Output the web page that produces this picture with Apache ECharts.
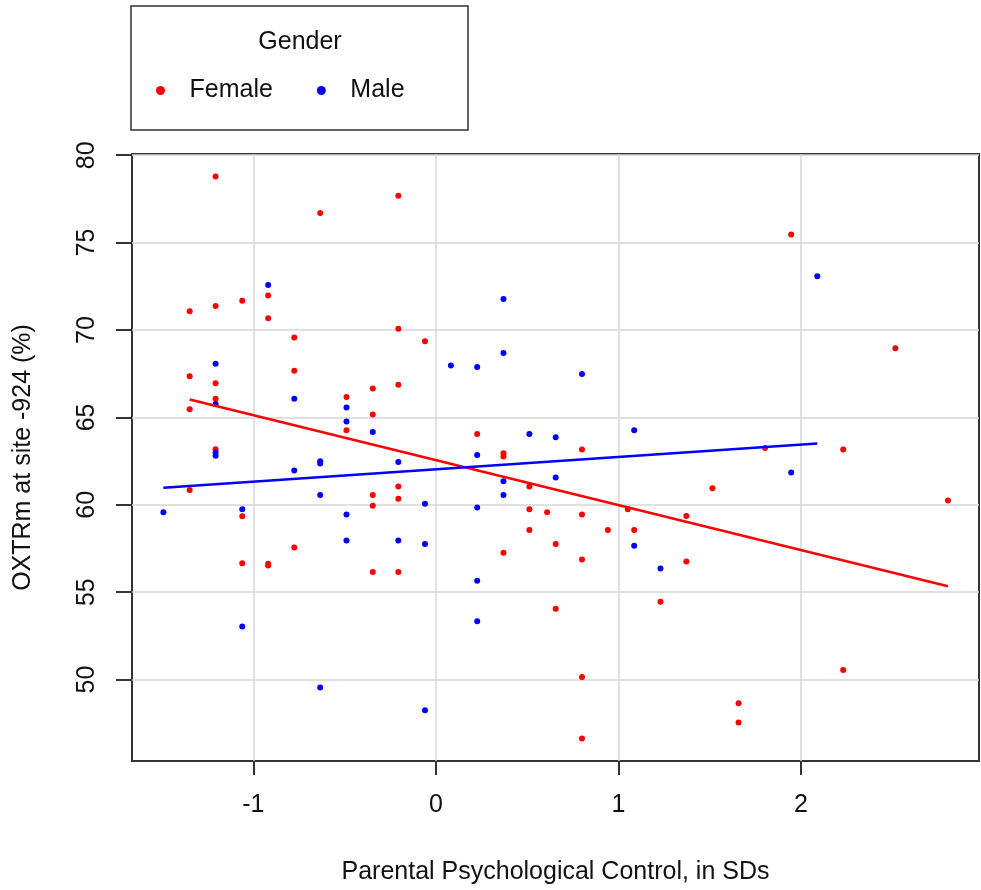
<!DOCTYPE html>
<html>
<head>
<meta charset="utf-8">
<script src="https://cdn.jsdelivr.net/npm/echarts@6/dist/echarts.min.js"></script>
<style>
  html, body { margin: 0; padding: 0; background: #fff; }
  #chart { width: 981px; height: 890px; }
</style>
</head>
<body>
<div id="chart"></div>
<script>
// values
const femaleX = [-1.349, -1.349, -1.349, -1.349, -1.207, -1.207, -1.207, -1.207, -1.207,
  -1.061, -1.061, -1.061, -0.919, -0.919, -0.919, -0.919, -0.776, -0.776, -0.776, -0.634,
  -0.490, -0.490, -0.346, -0.346, -0.346, -0.346, -0.346, -0.206, -0.206, -0.206, -0.206,
  -0.206, -0.206, -0.060, 0.226, 0.370, 0.370, 0.370, 0.512, 0.512, 0.512, 0.609, 0.656,
  0.656, 0.800, 0.800, 0.800, 0.800, 0.800, 0.942, 1.051, 1.086, 1.230, 1.372, 1.372,
  1.515, 1.658, 1.658, 1.803, 1.946, 2.231, 2.231, 2.517, 2.805]
const femaleY = [71.07, 67.36, 65.46, 60.84, 78.78, 71.38, 66.96, 66.07, 63.18,
  71.67, 59.34, 56.66, 71.97, 70.67, 56.62, 56.52, 69.57, 67.67, 57.55, 76.69,
  66.16, 64.26, 66.66, 65.16, 60.56, 59.94, 56.16, 77.68, 70.07, 66.87, 61.05,
  60.34, 56.16, 69.36, 64.05, 62.95, 62.76, 57.26, 61.05, 59.75, 58.56, 59.57, 57.76,
  54.05, 63.16, 59.45, 56.87, 50.15, 46.63, 58.56, 59.74, 58.56, 54.45, 59.36, 56.75,
  60.95, 48.64, 47.54, 63.25, 75.47, 63.16, 50.55, 68.96, 60.25]

const maleX = [-1.493, -1.207, -1.207, -1.207, -1.207, -1.061, -1.061, -0.919, -0.776,
  -0.776, -0.634, -0.634, -0.634, -0.634, -0.490, -0.490, -0.490, -0.490, -0.346, -0.206,
  -0.206, -0.060, -0.060, -0.060, 0.082, 0.226, 0.226, 0.226, 0.226, 0.226, 0.370, 0.370,
  0.370, 0.370, 0.512, 0.656, 0.656, 0.800, 1.086, 1.086, 1.230, 1.946, 2.089]
const maleY = [59.57, 68.07, 65.76, 62.99, 62.80, 59.75, 53.04, 72.58, 66.07,
  61.96, 62.49, 62.36, 60.56, 49.54, 65.56, 64.76, 59.45, 57.95, 64.17, 62.45,
  57.95, 60.06, 57.76, 48.24, 67.97, 67.88, 62.85, 59.85, 55.66, 53.34, 71.78, 68.68,
  61.35, 60.56, 64.05, 63.86, 61.56, 67.48, 64.26, 57.66, 56.35, 61.85, 73.07]

// fitted lines, end points
const femaleFitX = [-1.349, 2.805]
const femaleFitY = [66.02, 55.34]
const maleFitX = [-1.493, 2.089]
const maleFitY = [60.97, 63.50]

const xTicks = [-1, 0, 1, 2]
const yTicks = [50, 55, 60, 65, 70, 75, 80]

const zip = (xs, ys) => xs.map((x, i) => [x, ys[i]])

const font = 'Liberation Sans, Arial, Helvetica, sans-serif'
const textColor = '#111'
const fs = 25

let myChart = echarts.init(document.getElementById('chart'))
myChart.setOption({
  animation: false,
  textStyle: { fontFamily: font },
  grid: {
    left: 132,
    right: 2,
    top: 154,
    bottom: 127,
    show: true,
    borderColor: '#333',
    borderWidth: 2,
  },
  graphic: [
    {
      type: 'rect',
      shape: { x: 131, y: 6, width: 337, height: 124 },
      style: { fill: 'none', stroke: '#333', lineWidth: 1.5 },
    },
    {
      type: 'text',
      x: 300,
      y: 42,
      style: {
        text: 'Gender',
        fill: textColor,
        font: fs + 'px ' + font,
        textAlign: 'center',
        textVerticalAlign: 'middle',
      },
    },
  ],
  legend: {
    data: ['Female', 'Male'],
    left: 156,
    top: 78,
    padding: 0,
    icon: 'circle',
    itemWidth: 48,
    itemHeight: 9,
    itemGap: 44,
    textStyle: { fontSize: fs, color: textColor, fontFamily: font },
  },
  xAxis: {
    type: 'value',
    min: -1.665,
    max: 2.975,
    name: 'Parental Psychological Control, in SDs',
    nameLocation: 'middle',
    nameGap: 99,
    nameTextStyle: { fontSize: fs, color: textColor },
    axisLine: { show: false, onZero: false },
    axisTick: {
      show: true,
      length: 14,
      customValues: xTicks,
      lineStyle: { color: '#333', width: 2 },
    },
    axisLabel: {
      customValues: xTicks,
      fontSize: fs,
      color: textColor,
      margin: 32,
    },
    splitLine: {
      show: true,
      lineStyle: { color: '#d6d6d6', width: 1.5 },
    },
  },
  yAxis: {
    type: 'value',
    min: 45.34,
    max: 80.07,
    name: 'OXTRm at site -924 (%)',
    nameLocation: 'middle',
    nameGap: 96,
    nameTextStyle: { fontSize: fs, color: textColor },
    axisLine: { show: false, onZero: false },
    axisTick: {
      show: true,
      length: 16,
      customValues: yTicks,
      lineStyle: { color: '#333', width: 2 },
    },
    axisLabel: {
      customValues: yTicks,
      fontSize: fs,
      color: textColor,
      rotate: 90,
      margin: 32,
    },
    splitLine: {
      show: true,
      lineStyle: { color: '#d6d6d6', width: 1.5 },
    },
  },
  series: [
    {
      name: 'Female',
      type: 'scatter',
      data: zip(femaleX, femaleY),
      symbol: 'circle',
      symbolSize: 6,
      itemStyle: { color: '#ff0000', opacity: 1 },
    },
    {
      name: 'Male',
      type: 'scatter',
      data: zip(maleX, maleY),
      symbol: 'circle',
      symbolSize: 6,
      itemStyle: { color: '#0000ff', opacity: 1 },
    },
    {
      name: 'Female fit',
      type: 'line',
      data: zip(femaleFitX, femaleFitY),
      symbol: 'none',
      lineStyle: { color: '#ff0000', width: 2.5 },
      z: 3,
    },
    {
      name: 'Male fit',
      type: 'line',
      data: zip(maleFitX, maleFitY),
      symbol: 'none',
      lineStyle: { color: '#0000ff', width: 2.5 },
      z: 3,
    },
  ],
})
</script>
</body>
</html>
